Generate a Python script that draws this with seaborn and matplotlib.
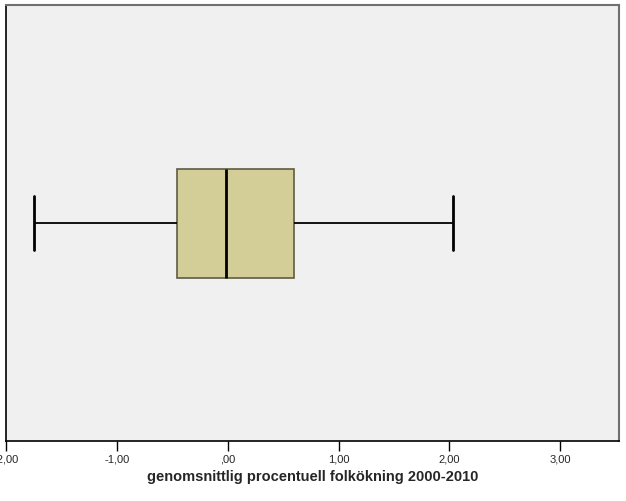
import matplotlib
matplotlib.use("Agg")
import matplotlib.pyplot as plt
import seaborn as sns
import pandas as pd
from matplotlib.ticker import FuncFormatter

# Five-number summary
growth_values = [-1.745, -0.457, -0.015, 0.597, 2.03]
group = ["alla"] * len(growth_values)
tick_values = [-2, -1, 0, 1, 2, 3]
x_label = "genomsnittlig procentuell folkökning 2000-2010"

df = pd.DataFrame({"growth": growth_values, "group": group})

sns.set_style("white")
plt.rcParams["font.family"] = ["Liberation Sans", "DejaVu Sans"]

fig = plt.figure(figsize=(6.26, 5.01), dpi=100)
ax = fig.add_axes([6 / 626, 60 / 501, 613 / 626, 436 / 501])
ax.set_facecolor("#F0F0F0")

sns.boxplot(
    data=df, x="growth", y="group", orient="h", ax=ax,
    width=0.25, whis=1.5, color="#D3CE97", saturation=1,
    linecolor="black", linewidth=1.3,
    boxprops=dict(facecolor="#D3CE97", edgecolor="#5E5B45", linewidth=1.2),
    medianprops=dict(color="black", linewidth=2),
    whiskerprops=dict(color="black", linewidth=1.3),
    capprops=dict(color="black", linewidth=2),
)

ax.set_xlim(-2, 3.53)
ax.set_ylim(0.5, -0.5)
ax.set_xticks(tick_values)

def fmt(v, pos):
    s = f"{v:.2f}".replace(".", ",")
    if s.startswith("0,"):
        s = s[1:]
    elif s.startswith("-0,"):
        s = s[2:]
    return s

ax.xaxis.set_major_formatter(FuncFormatter(fmt))
ax.set_yticks([])
ax.set_ylabel("")
ax.set_xlabel(x_label, fontsize=10.5, fontweight="bold", labelpad=4)
ax.tick_params(axis="x", direction="out", length=7, width=1, color="black",
               labelsize=8, pad=3, bottom=True)
for side in ["left", "bottom"]:
    ax.spines[side].set_color("black")
    ax.spines[side].set_linewidth(1.2)
for side in ["top", "right"]:
    ax.spines[side].set_color("#707070")
    ax.spines[side].set_linewidth(1.5)

fig.savefig("out.png", dpi=100, facecolor="white")
